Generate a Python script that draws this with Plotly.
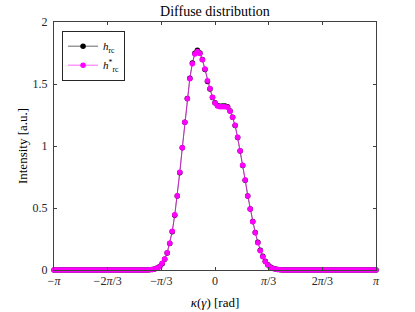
import numpy as np
import plotly.graph_objects as go

N_POINTS = 129
kappa = np.linspace(-np.pi, np.pi, N_POINTS)

# h*_rc (magenta) values in the non-zero region (indices 36..92)
h_star_core = [0.001, 0.001, 0.002, 0.004, 0.008, 0.015, 0.027, 0.054, 0.089, 0.140,
               0.215, 0.312, 0.446, 0.599, 0.788, 0.986, 1.191, 1.381, 1.543, 1.664,
               1.742, 1.762, 1.745, 1.695, 1.621, 1.527, 1.463, 1.393, 1.346, 1.323,
               1.317, 1.317, 1.317, 1.312, 1.280, 1.232, 1.167, 1.070, 0.962, 0.844,
               0.726, 0.597, 0.492, 0.390, 0.301, 0.220, 0.156, 0.107, 0.067, 0.040,
               0.020, 0.012, 0.007, 0.004, 0.002, 0.001, 0.001]
# h_rc (black) values in the same region
h_rc_core = [0.001, 0.001, 0.002, 0.004, 0.008, 0.016, 0.029, 0.051, 0.086, 0.138,
             0.213, 0.309, 0.442, 0.596, 0.785, 0.985, 1.192, 1.384, 1.547, 1.670,
             1.748, 1.772, 1.750, 1.698, 1.617, 1.520, 1.459, 1.392, 1.348, 1.326,
             1.321, 1.322, 1.322, 1.316, 1.282, 1.231, 1.165, 1.068, 0.960, 0.842,
             0.724, 0.596, 0.491, 0.391, 0.303, 0.223, 0.159, 0.110, 0.070, 0.043,
             0.024, 0.014, 0.008, 0.005, 0.003, 0.001, 0.001]
zeros_left = [0.0] * 36
zeros_right = [0.0] * (N_POINTS - 36 - len(h_star_core))
h_star = zeros_left + h_star_core + zeros_right
h_rc = zeros_left + h_rc_core + zeros_right

xtick_vals = [-np.pi, -2 * np.pi / 3, -np.pi / 3, 0, np.pi / 3, 2 * np.pi / 3, np.pi]
xtick_text = ["−<i>π</i>", "−2<i>π</i>/3", "−<i>π</i>/3", "0", "<i>π</i>/3", "2<i>π</i>/3", "<i>π</i>"]
ytick_vals = [0, 0.5, 1, 1.5, 2]
ytick_text = ["0", "0.5", "1", "1.5", "2"]

FONT = "Liberation Serif, DejaVu Serif, serif"
AX = "#262626"
TICKC = "#404040"

fig = go.Figure()
fig.add_trace(go.Scatter(
    x=kappa, y=h_rc, mode="lines+markers", name="<i>h</i><sub>rc</sub>",
    line=dict(color="black", width=0.6),
    marker=dict(color="black", size=5.5, symbol="circle"),
    cliponaxis=False,
))
fig.add_trace(go.Scatter(
    x=kappa, y=h_star, mode="lines+markers", name="<i>h</i><sup>*</sup><sub>rc</sub>",
    line=dict(color="#ff00ff", width=0.6),
    marker=dict(color="#ff00ff", size=5.5, symbol="circle"),
    cliponaxis=False,
))

fig.update_layout(
    width=415, height=312,
    margin=dict(l=54, r=39, t=22, b=42, autoexpand=False),
    paper_bgcolor="white", plot_bgcolor="white",
    font=dict(family=FONT, size=12, color=AX),
    title=dict(text="Diffuse distribution", x=0.518, xanchor="center",
               y=0.963, yanchor="middle", font=dict(size=14, color="black")),
    showlegend=True,
    legend=dict(x=0.025, y=0.965, xanchor="left", yanchor="top",
                bgcolor="white", bordercolor=AX, borderwidth=1,
                font=dict(size=11, color="black"), tracegroupgap=0,
                itemwidth=30),
    xaxis=dict(range=[-np.pi, np.pi], tickmode="array", tickvals=xtick_vals,
               ticktext=xtick_text, ticks="inside", ticklen=3, tickcolor=TICKC,
               showline=True, linecolor=TICKC, linewidth=1, mirror="ticks",
               showgrid=False, zeroline=False, automargin=False,
               title=dict(text="<i>κ</i>(<i>γ</i>) [rad]", font=dict(size=13, color="black"), standoff=10),
               tickfont=dict(size=12, color=AX)),
    yaxis=dict(range=[0, 2], tickmode="array", tickvals=ytick_vals,
               ticktext=ytick_text, ticks="inside", ticklen=3, tickcolor=TICKC,
               showline=True, linecolor=TICKC, linewidth=1, mirror="ticks",
               showgrid=False, zeroline=False, automargin=False,
               ticklabelstandoff=3,
               title=dict(text="Intensity [a.u.]", font=dict(size=13, color="black"), standoff=2),
               tickfont=dict(size=12, color=AX)),
)

fig.write_html("out.html", config={"displayModeBar": False},
               post_script="document.body.style.margin='0';document.body.style.padding='0';")
